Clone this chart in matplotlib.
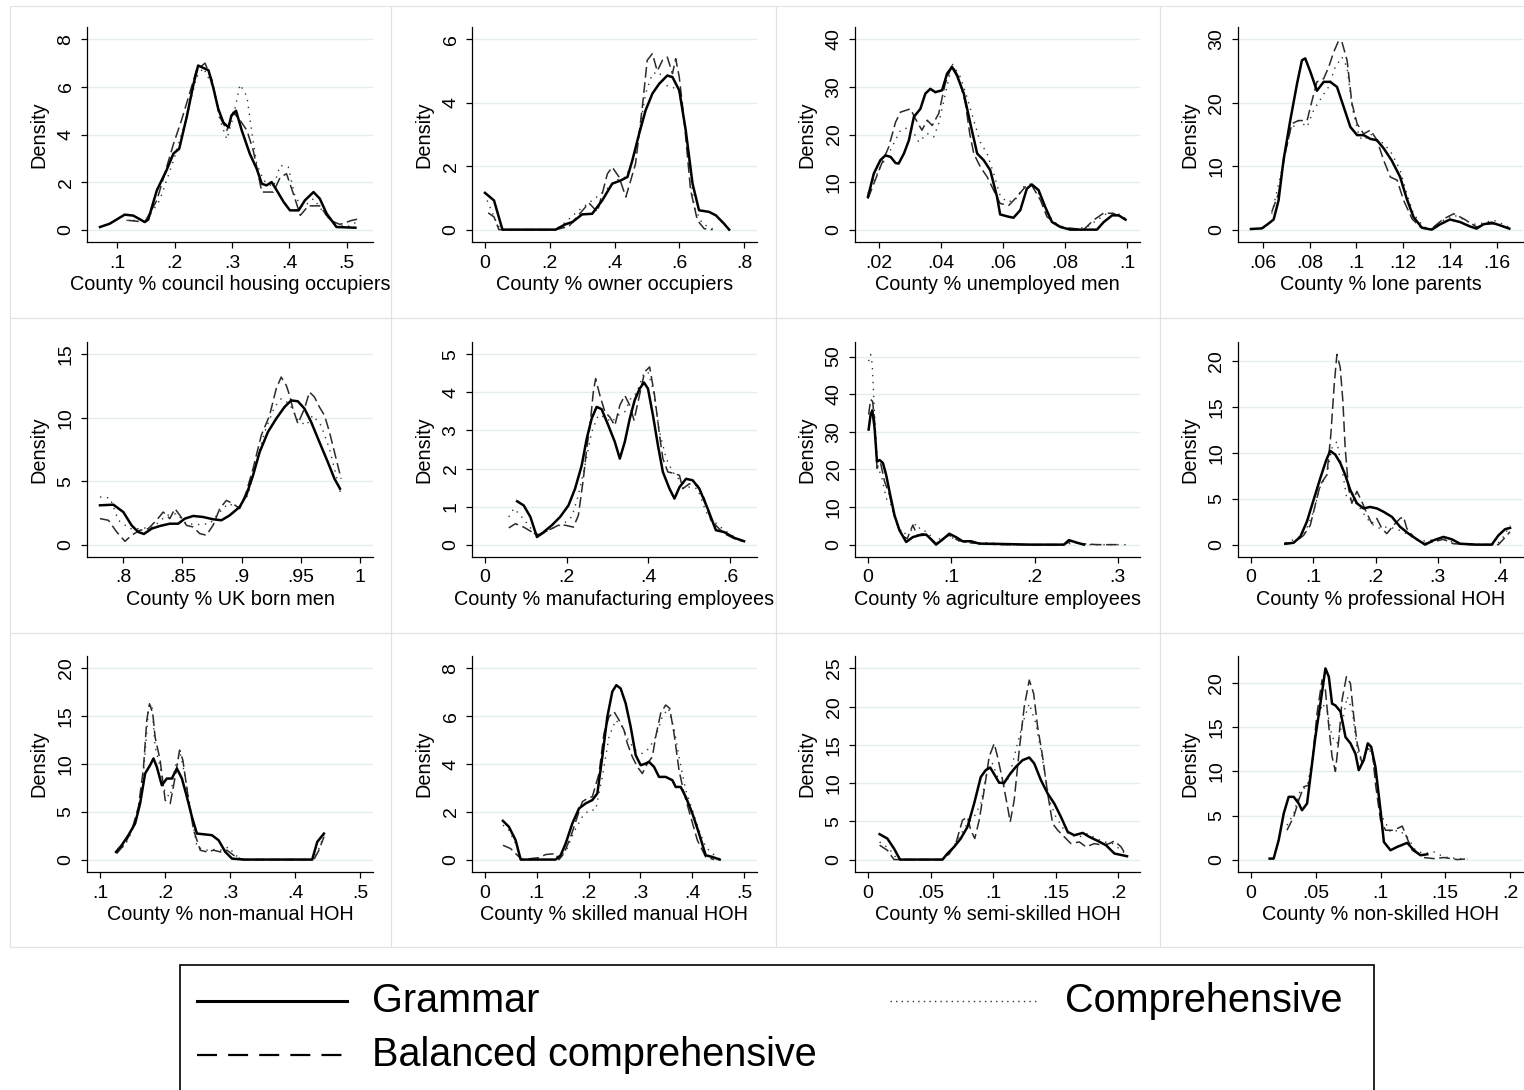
import matplotlib.pyplot as plt
from matplotlib.patches import Rectangle
from matplotlib.lines import Line2D

W, H = 1524, 1090
plt.rcParams['font.family'] = ['Liberation Sans', 'DejaVu Sans']

# (x, density) points
council_grammar = [(0.070, 0.11), (0.087, 0.25), (0.113, 0.63), (0.128, 0.59), (0.148, 0.32), (0.154, 0.42),
                   (0.169, 1.65), (0.186, 2.5), (0.198, 3.2), (0.208, 3.4), (0.221, 4.73), (0.233, 6.13),
                   (0.241, 6.9), (0.259, 6.7), (0.267, 6.0), (0.276, 5.08), (0.285, 4.5), (0.294, 4.3),
                   (0.299, 4.8), (0.307, 5.0), (0.317, 4.17), (0.331, 3.19), (0.343, 2.56), (0.352, 1.93),
                   (0.360, 1.86), (0.369, 2.0), (0.378, 1.65), (0.390, 1.16), (0.401, 0.81), (0.416, 0.81),
                   (0.427, 1.23), (0.442, 1.58), (0.453, 1.3), (0.465, 0.67), (0.482, 0.11), (0.515, 0.08)]
council_balanced = [(0.119, 0.39), (0.148, 0.32), (0.169, 1.23), (0.198, 3.6), (0.212, 4.6), (0.227, 5.8),
                    (0.238, 6.7), (0.253, 7.0), (0.265, 6.3), (0.279, 4.73), (0.291, 4.17), (0.302, 4.94),
                    (0.314, 4.6), (0.326, 4.17), (0.337, 3.33), (0.352, 1.58), (0.372, 1.58), (0.384, 2.2),
                    (0.395, 2.35), (0.407, 1.5), (0.419, 0.6), (0.433, 1.0), (0.453, 1.0), (0.471, 0.39),
                    (0.488, 0.22), (0.509, 0.39), (0.523, 0.46)]
council_comp = [(0.116, 0.39), (0.151, 0.39), (0.174, 1.23), (0.198, 2.9), (0.221, 4.73), (0.238, 6.4),
                (0.250, 6.8), (0.267, 6.0), (0.279, 4.6), (0.291, 3.8), (0.302, 4.73), (0.314, 6.1),
                (0.326, 5.6), (0.334, 4.17), (0.343, 2.77), (0.355, 2.07), (0.372, 1.79), (0.384, 2.7),
                (0.398, 2.63), (0.410, 1.37), (0.424, 0.95), (0.442, 1.3), (0.459, 0.74), (0.477, 0.25),
                (0.500, 0.11), (0.523, 0.39)]

owner_grammar = [(0.0, 1.16), (0.028, 0.92), (0.054, 0.0), (0.218, 0.0), (0.249, 0.17), (0.27, 0.24),
                 (0.30, 0.48), (0.331, 0.5), (0.362, 0.92), (0.393, 1.45), (0.419, 1.55), (0.44, 1.66),
                 (0.455, 2.18), (0.476, 3.02), (0.496, 3.76), (0.517, 4.29), (0.538, 4.6), (0.563, 4.86),
                 (0.579, 4.81), (0.60, 4.39), (0.62, 3.13), (0.641, 1.45), (0.661, 0.61), (0.692, 0.56),
                 (0.713, 0.45), (0.738, 0.19), (0.754, 0.0)]
owner_balanced = [(0.01, 0.53), (0.028, 0.4), (0.043, 0.0), (0.218, 0.0), (0.259, 0.1), (0.321, 0.84),
                  (0.347, 0.56), (0.362, 1.13), (0.378, 1.76), (0.393, 1.97), (0.414, 1.66), (0.435, 1.03),
                  (0.45, 1.55), (0.465, 2.08), (0.486, 3.87), (0.501, 5.34), (0.517, 5.55), (0.532, 5.0),
                  (0.548, 5.34), (0.563, 5.44), (0.579, 4.92), (0.589, 5.39), (0.60, 4.81), (0.615, 3.45),
                  (0.635, 1.24), (0.656, 0.29), (0.677, 0.03), (0.703, 0.0)]
owner_comp = [(0.007, 0.92), (0.033, 0.29), (0.048, 0.0), (0.218, 0.0), (0.249, 0.24), (0.29, 0.61),
              (0.331, 0.92), (0.372, 1.24), (0.403, 1.55), (0.435, 1.66), (0.465, 2.39), (0.496, 4.29),
              (0.517, 4.92), (0.538, 4.97), (0.558, 4.55), (0.579, 4.5), (0.60, 4.34), (0.62, 3.13),
              (0.646, 0.71), (0.671, 0.19), (0.703, 0.03)]

unemp_grammar = [(0.0165, 6.9), (0.0184, 11.8), (0.0205, 14.6), (0.0221, 15.6), (0.0238, 15.3), (0.0254, 14.0),
                 (0.0264, 13.9), (0.0281, 16.0), (0.0297, 18.8), (0.0313, 23.7), (0.0334, 25.4), (0.035, 28.6),
                 (0.0366, 29.6), (0.0382, 28.9), (0.0404, 29.3), (0.042, 32.8), (0.0436, 34.2), (0.0452, 32.4),
                 (0.0474, 28.6), (0.0495, 22.3), (0.0517, 16.0), (0.0538, 14.6), (0.0559, 12.5), (0.0581, 6.9),
                 (0.0591, 3.2), (0.0613, 2.8), (0.0634, 2.5), (0.0656, 4.1), (0.0677, 8.6), (0.0693, 9.5),
                 (0.0715, 8.3), (0.0736, 4.8), (0.0758, 1.6), (0.0785, 0.56), (0.0817, 0.0), (0.0903, 0.0),
                 (0.0925, 1.6), (0.0952, 3.0), (0.0973, 3.0), (0.0995, 2.1)]
unemp_balanced = [(0.0165, 6.5), (0.0205, 13.2), (0.0232, 17.4), (0.0254, 22.6), (0.027, 24.7), (0.0302, 25.4),
                  (0.0318, 23.3), (0.0339, 20.9), (0.0356, 23.0), (0.0372, 21.9), (0.0393, 24.4), (0.0414, 30.7),
                  (0.0436, 34.6), (0.0457, 32.1), (0.0479, 26.6), (0.0493, 20.2), (0.0506, 16.0), (0.0527, 13.2),
                  (0.0549, 11.1), (0.057, 8.3), (0.0591, 5.5), (0.0619, 5.1), (0.0645, 6.9), (0.0672, 9.0),
                  (0.0693, 9.3), (0.0721, 6.2), (0.0742, 2.7), (0.0785, 0.56), (0.086, 0.0), (0.0892, 2.0),
                  (0.0925, 3.5), (0.0957, 3.4), (0.0989, 2.3)]
unemp_comp = [(0.0165, 7.6), (0.0205, 13.2), (0.0227, 15.3), (0.0248, 18.1), (0.027, 20.9), (0.0302, 21.6),
              (0.0329, 18.4), (0.0356, 20.2), (0.0377, 19.5), (0.0393, 22.3), (0.041, 27.2), (0.0436, 34.9),
              (0.0463, 32.1), (0.0484, 27.9), (0.0506, 23.0), (0.0527, 18.4), (0.0549, 16.0), (0.057, 11.8),
              (0.0591, 7.2), (0.0613, 5.8), (0.0639, 6.2), (0.0667, 9.0), (0.0693, 9.7), (0.0715, 7.6),
              (0.0742, 3.4), (0.0774, 1.1), (0.0817, 0.0), (0.0871, 0.56), (0.0903, 2.0), (0.0935, 3.4),
              (0.0968, 3.5), (0.100, 2.1)]

lone_grammar = [(0.0549, 0.1), (0.0596, 0.2), (0.0624, 0.95), (0.0646, 1.6), (0.0667, 4.6), (0.0688, 10.9),
                (0.0717, 17.2), (0.0746, 23.0), (0.0767, 26.7), (0.0781, 27.0), (0.0803, 24.9), (0.0831, 21.9),
                (0.086, 23.3), (0.0888, 23.3), (0.0917, 22.5), (0.0946, 19.3), (0.0974, 16.2), (0.1003, 14.9),
                (0.1031, 14.9), (0.106, 14.3), (0.1088, 14.1), (0.1117, 12.8), (0.1151, 10.9), (0.1187, 8.3),
                (0.1215, 4.9), (0.1244, 2.0), (0.128, 0.3), (0.1322, 0.0), (0.1358, 0.84), (0.140, 1.6),
                (0.1443, 1.2), (0.1486, 0.5), (0.1514, 0.16), (0.1543, 0.84), (0.1579, 1.1), (0.1614, 0.68),
                (0.1654, 0.16)]
lone_balanced = [(0.0638, 2.8), (0.0667, 5.7), (0.0695, 12.0), (0.0724, 16.7), (0.0752, 17.2), (0.0789, 17.2),
                 (0.081, 20.3), (0.0831, 23.3), (0.086, 23.8), (0.0881, 25.6), (0.0903, 28.0), (0.0924, 29.8),
                 (0.0938, 29.6), (0.096, 26.7), (0.0981, 19.9), (0.1003, 16.7), (0.1031, 15.1), (0.106, 15.7),
                 (0.1088, 14.1), (0.1117, 10.9), (0.1145, 8.3), (0.1174, 7.8), (0.1202, 4.6), (0.1238, 1.7),
                 (0.1273, 0.42), (0.1316, 0.0), (0.1373, 1.7), (0.1416, 2.5), (0.1459, 1.7), (0.1514, 0.42),
                 (0.1557, 0.84), (0.1599, 0.95), (0.1642, 0.3)]
lone_comp = [(0.0638, 2.5), (0.0681, 9.4), (0.0717, 15.6), (0.0752, 17.2), (0.0789, 16.2), (0.0817, 18.8),
             (0.0852, 20.9), (0.0881, 22.5), (0.0909, 25.6), (0.0938, 27.2), (0.096, 25.6), (0.0981, 19.3),
             (0.1013, 14.6), (0.1031, 14.1), (0.106, 15.1), (0.1088, 14.1), (0.1117, 13.6), (0.1151, 12.0),
             (0.1187, 9.4), (0.1215, 5.7), (0.1244, 2.5), (0.1287, 0.42), (0.1322, 0.16), (0.1373, 1.5),
             (0.1416, 2.3), (0.1459, 1.6), (0.1501, 0.84), (0.1543, 1.05), (0.1585, 1.5), (0.1628, 0.84),
             (0.1657, 0.3)]

ukborn_grammar = [(0.7803, 3.1), (0.7916, 3.15), (0.800, 2.57), (0.807, 1.52), (0.8126, 1.0), (0.8174, 0.84),
                  (0.8239, 1.26), (0.8309, 1.47), (0.8393, 1.65), (0.8464, 1.65), (0.852, 2.05), (0.859, 2.26),
                  (0.8674, 2.18), (0.8758, 2.0), (0.8829, 1.92), (0.8899, 2.31), (0.8983, 2.97), (0.9039, 3.89),
                  (0.9096, 5.46), (0.9152, 7.3), (0.9222, 8.88), (0.9292, 9.93), (0.9362, 10.85), (0.9419, 11.37),
                  (0.9475, 11.3), (0.9531, 10.72), (0.9587, 9.67), (0.9657, 8.09), (0.9728, 6.51), (0.9784, 5.2),
                  (0.9831, 4.41)]
ukborn_balanced = [(0.7803, 2.05), (0.7874, 1.92), (0.7944, 1.0), (0.8014, 0.26), (0.807, 0.74), (0.814, 1.13),
                   (0.8211, 1.26), (0.8281, 1.92), (0.8337, 2.57), (0.8393, 2.05), (0.8436, 2.84), (0.8478, 2.31),
                   (0.8534, 1.52), (0.859, 1.39), (0.8646, 0.87), (0.8702, 0.74), (0.8758, 1.52), (0.8815, 2.84),
                   (0.8871, 3.49), (0.8927, 3.23), (0.8983, 2.84), (0.9039, 4.15), (0.9096, 5.99), (0.9166, 8.62),
                   (0.9236, 10.19), (0.9292, 12.29), (0.9334, 13.21), (0.9377, 12.56), (0.9405, 11.77),
                   (0.9433, 10.72), (0.9475, 9.54), (0.9531, 10.72), (0.9573, 12.03), (0.9615, 11.64),
                   (0.9657, 10.85), (0.970, 10.19), (0.9742, 8.88), (0.9798, 6.78), (0.984, 5.2)]
ukborn_comp = [(0.7803, 3.76), (0.7888, 3.68), (0.7958, 1.92), (0.8056, 1.26), (0.814, 1.26), (0.8253, 1.39),
               (0.8365, 2.31), (0.8449, 2.44), (0.8534, 1.65), (0.8646, 1.58), (0.873, 1.65), (0.8815, 2.57),
               (0.8885, 3.23), (0.8969, 2.97), (0.9053, 3.89), (0.9124, 6.51), (0.9194, 8.88), (0.9278, 10.85),
               (0.9334, 11.5), (0.9405, 11.1), (0.9475, 9.8), (0.9545, 9.4), (0.9601, 10.19), (0.9671, 9.4),
               (0.9742, 7.56), (0.9812, 4.94), (0.984, 3.89)]

manuf_grammar = [(0.0787, 1.14), (0.0949, 1.03), (0.1111, 0.73), (0.1273, 0.2), (0.1436, 0.33), (0.1638, 0.51),
                 (0.1841, 0.73), (0.2044, 1.03), (0.2206, 1.47), (0.2368, 2.08), (0.249, 2.78), (0.2612, 3.31),
                 (0.2733, 3.62), (0.2855, 3.56), (0.3017, 3.14), (0.3179, 2.7), (0.3301, 2.26), (0.3423, 2.7),
                 (0.3544, 3.31), (0.3666, 3.8), (0.3788, 4.1), (0.3893, 4.26), (0.399, 4.1), (0.4112, 3.4),
                 (0.4234, 2.61), (0.4355, 1.91), (0.4517, 1.47), (0.4639, 1.21), (0.4761, 1.51), (0.4923, 1.73),
                 (0.5085, 1.69), (0.5247, 1.47), (0.545, 0.95), (0.5652, 0.38), (0.5855, 0.33), (0.6099, 0.18),
                 (0.6342, 0.09)]
manuf_balanced = [(0.0584, 0.44), (0.0746, 0.55), (0.0949, 0.46), (0.1152, 0.33), (0.1354, 0.25), (0.1557, 0.38),
                  (0.180, 0.51), (0.1963, 0.51), (0.2166, 0.46), (0.2287, 0.77), (0.2409, 1.73), (0.249, 2.52),
                  (0.2571, 3.13), (0.2652, 4.01), (0.2709, 4.36), (0.2814, 3.92), (0.2936, 3.49), (0.3057, 3.35),
                  (0.3179, 3.13), (0.3301, 3.66), (0.3423, 3.92), (0.3544, 3.66), (0.3649, 3.27), (0.3747, 3.75),
                  (0.3909, 4.54), (0.4031, 4.67), (0.4152, 3.92), (0.4274, 2.87), (0.4355, 2.26), (0.4477, 1.91),
                  (0.4639, 1.87), (0.4761, 1.82), (0.4842, 1.47), (0.5004, 1.6), (0.5207, 1.56), (0.5369, 1.21),
                  (0.5531, 0.64), (0.5693, 0.46), (0.5855, 0.29), (0.6099, 0.16), (0.6302, 0.09)]
manuf_comp = [(0.0584, 0.73), (0.0706, 0.95), (0.0868, 0.77), (0.1071, 0.51), (0.1233, 0.25), (0.1476, 0.33),
              (0.1719, 0.46), (0.1922, 0.55), (0.2125, 0.73), (0.2287, 1.3), (0.2449, 2.08), (0.2612, 2.96),
              (0.2774, 3.4), (0.2936, 3.35), (0.3098, 3.22), (0.326, 3.4), (0.3423, 3.49), (0.3585, 3.88),
              (0.3706, 3.97), (0.3868, 4.45), (0.399, 4.54), (0.4112, 4.1), (0.4274, 2.96), (0.4436, 2.26),
              (0.4598, 1.91), (0.4801, 1.65), (0.5004, 1.51), (0.5207, 1.47), (0.5409, 0.86), (0.5612, 0.6),
              (0.5814, 0.42), (0.6018, 0.26), (0.6302, 0.09)]

agri_grammar = [(0.0008, 30.6), (0.0032, 34.6), (0.0052, 35.7), (0.008, 31.0), (0.0108, 22.1), (0.014, 22.5),
                (0.018, 21.7), (0.0219, 18.5), (0.0259, 14.1), (0.0319, 7.8), (0.0379, 3.8), (0.0459, 0.7),
                (0.0539, 2.0), (0.0618, 2.5), (0.0698, 2.7), (0.0758, 1.4), (0.0818, 0.0), (0.0898, 1.4),
                (0.0977, 2.9), (0.1057, 2.0), (0.1137, 0.9), (0.1237, 0.9), (0.1336, 0.27), (0.1556, 0.2),
                (0.1955, 0.0), (0.2353, 0.0), (0.2413, 1.2), (0.2513, 0.5), (0.2593, 0.0)]
agri_balanced = [(0.0008, 34.6), (0.0032, 38.6), (0.0056, 38.1), (0.008, 32.8), (0.0108, 20.3), (0.0152, 21.7),
                 (0.0199, 16.8), (0.0259, 13.2), (0.0319, 7.4), (0.0399, 2.5), (0.0471, 1.6), (0.0539, 5.2),
                 (0.059, 2.5), (0.0658, 2.9), (0.0738, 2.0), (0.0818, 0.27), (0.0898, 1.6), (0.0977, 2.5),
                 (0.1077, 1.2), (0.1197, 0.5), (0.1396, 0.27), (0.1556, 0.0), (0.2353, 0.0), (0.2433, 0.9),
                 (0.2553, 0.27), (0.2752, 0.0), (0.2992, 0.0)]
agri_comp = [(0.0008, 48.8), (0.0032, 50.6), (0.0052, 47.9), (0.0068, 39.9), (0.0088, 31.0), (0.012, 20.3),
             (0.016, 18.5), (0.0219, 12.3), (0.0279, 10.5), (0.0339, 6.1), (0.0419, 2.7), (0.0519, 3.8),
             (0.0578, 5.6), (0.0638, 3.8), (0.0718, 3.4), (0.0798, 0.7), (0.0898, 2.0), (0.0997, 2.0),
             (0.1117, 0.7), (0.1276, 0.5), (0.1476, 0.5), (0.1635, 0.0), (0.2353, 0.0), (0.2473, 0.5),
             (0.2633, 0.0), (0.3111, 0.0)]

prof_grammar = [(0.0551, 0.1), (0.0684, 0.2), (0.0791, 0.84), (0.0898, 2.5), (0.1005, 4.85), (0.1112, 7.2),
                (0.1209, 9.2), (0.1273, 10.2), (0.1353, 9.8), (0.1433, 8.9), (0.1513, 7.6), (0.1594, 5.95),
                (0.1701, 4.5), (0.1807, 3.94), (0.1914, 4.1), (0.2021, 3.94), (0.2128, 3.58), (0.2262, 3.03),
                (0.2396, 1.93), (0.253, 1.2), (0.2663, 0.58), (0.2797, 0.0), (0.293, 0.47), (0.3091, 0.84),
                (0.3225, 0.58), (0.3358, 0.1), (0.3626, 0.0), (0.3866, 0.0), (0.3973, 1.0), (0.408, 1.68),
                (0.416, 1.82)]
prof_balanced = [(0.0551, 0.07), (0.0684, 0.2), (0.0845, 1.0), (0.0952, 2.1), (0.1032, 4.3), (0.1112, 6.5),
                 (0.1219, 7.6), (0.1283, 12.0), (0.1337, 17.4), (0.138, 20.7), (0.1433, 19.3), (0.1476, 15.6),
                 (0.1513, 10.5), (0.1567, 6.1), (0.162, 4.5), (0.1701, 5.8), (0.1781, 4.67), (0.1861, 3.4),
                 (0.1941, 2.3), (0.2021, 2.85), (0.2102, 1.75), (0.2182, 1.2), (0.2289, 2.1), (0.2396, 2.85),
                 (0.2449, 3.03), (0.2503, 1.75), (0.261, 0.84), (0.277, 0.1), (0.293, 0.3), (0.3091, 0.58),
                 (0.3251, 0.1), (0.3519, 0.0), (0.3973, 0.0), (0.4053, 0.58), (0.416, 1.4)]
prof_comp = [(0.0551, 0.2), (0.0738, 0.66), (0.0872, 1.4), (0.1005, 3.58), (0.1112, 6.3), (0.1219, 7.6),
             (0.1299, 10.5), (0.138, 11.2), (0.146, 8.3), (0.154, 5.0), (0.1647, 4.85), (0.1754, 3.94),
             (0.1861, 2.85), (0.1968, 2.1), (0.2075, 1.75), (0.2182, 1.93), (0.2315, 1.75), (0.2449, 1.39),
             (0.2583, 0.84), (0.2717, 0.37), (0.2877, 0.47), (0.3037, 0.66), (0.3198, 0.37), (0.3358, 0.1),
             (0.3947, 0.0), (0.4053, 0.84), (0.416, 2.1)]

nonman_grammar = [(0.1247, 0.8), (0.1334, 1.5), (0.1437, 2.55), (0.154, 3.77), (0.1617, 5.86), (0.1694, 9.0),
                  (0.1771, 9.88), (0.1823, 10.58), (0.1874, 9.7), (0.1951, 7.78), (0.2028, 8.48), (0.2105, 8.48),
                  (0.2183, 9.53), (0.226, 8.48), (0.2337, 6.56), (0.2414, 4.47), (0.2491, 2.72), (0.2594, 2.65),
                  (0.2722, 2.55), (0.2825, 2.02), (0.2928, 0.8), (0.3031, 0.1), (0.3211, 0.0), (0.4265, 0.0),
                  (0.4342, 1.85), (0.4445, 2.72)]
nonman_balanced = [(0.1257, 0.63), (0.1386, 1.68), (0.1488, 3.07), (0.1591, 5.51), (0.1668, 9.53), (0.172, 14.6),
                   (0.1761, 16.3), (0.1812, 15.3), (0.1848, 12.8), (0.1925, 10.4), (0.2003, 6.2), (0.208, 5.86),
                   (0.2157, 8.66), (0.2224, 11.45), (0.2275, 10.4), (0.2363, 6.2), (0.244, 3.07), (0.2542, 0.98),
                   (0.2645, 0.8), (0.2748, 0.98), (0.2851, 0.8), (0.2954, 0.98), (0.3056, 0.45), (0.3185, 0.0),
                   (0.4291, 0.0), (0.4368, 0.98), (0.4445, 2.37)]
nonman_comp = [(0.1257, 0.8), (0.1386, 1.5), (0.1488, 2.9), (0.1591, 5.17), (0.1668, 9.0), (0.1745, 15.6),
               (0.1797, 16.3), (0.1848, 11.8), (0.1925, 9.7), (0.2003, 6.9), (0.208, 6.56), (0.2157, 9.7),
               (0.2234, 11.1), (0.2311, 8.66), (0.2388, 5.51), (0.2491, 1.33), (0.2619, 0.98), (0.2748, 1.05),
               (0.2877, 0.98), (0.298, 1.33), (0.3082, 0.45), (0.3211, 0.0), (0.4291, 0.0), (0.4368, 1.15),
               (0.4445, 2.55)]

skilled_grammar = [(0.0347, 1.62), (0.0463, 1.37), (0.0592, 0.81), (0.0689, 0.0), (0.1364, 0.0), (0.1461, 0.18),
                   (0.1557, 0.67), (0.1686, 1.51), (0.1815, 2.14), (0.1943, 2.35), (0.2072, 2.49), (0.2169, 2.77),
                   (0.2265, 4.3), (0.2362, 5.98), (0.2458, 7.03), (0.2535, 7.3), (0.2619, 7.16), (0.2715, 6.54),
                   (0.2812, 5.56), (0.2909, 4.37), (0.3005, 3.95), (0.3102, 4.02), (0.3166, 4.09), (0.3263, 3.88),
                   (0.3359, 3.46), (0.3488, 3.46), (0.3617, 3.32), (0.3681, 3.04), (0.3777, 3.04), (0.3874, 2.63),
                   (0.4003, 1.93), (0.4131, 1.09), (0.426, 0.18), (0.4389, 0.11), (0.453, 0.0)]
skilled_balanced = [(0.0347, 0.6), (0.0495, 0.46), (0.0624, 0.18), (0.0721, 0.0), (0.1042, 0.08), (0.1171, 0.21),
                    (0.1364, 0.25), (0.1429, 0.0), (0.1525, 0.25), (0.1654, 0.95), (0.1782, 1.79), (0.1879, 2.42),
                    (0.1976, 2.56), (0.2072, 2.63), (0.2201, 3.6), (0.2297, 5.28), (0.2394, 5.98), (0.2491, 6.19),
                    (0.2587, 5.84), (0.2683, 5.42), (0.2748, 4.86), (0.2844, 4.3), (0.2941, 3.88), (0.3037, 3.6),
                    (0.3134, 4.02), (0.323, 4.3), (0.3295, 5.14), (0.3391, 6.12), (0.3488, 6.47), (0.3565, 6.33),
                    (0.3649, 5.28), (0.3745, 3.74), (0.3842, 2.77), (0.397, 1.79), (0.4099, 0.81), (0.426, 0.11),
                    (0.4421, 0.0)]
skilled_comp = [(0.0347, 1.44), (0.0463, 1.23), (0.0592, 0.67), (0.0689, 0.0), (0.1364, 0.0), (0.1557, 0.32),
                (0.1718, 1.16), (0.1879, 1.79), (0.2008, 2.07), (0.2136, 2.07), (0.2265, 3.46), (0.2394, 5.14),
                (0.2523, 5.84), (0.2651, 5.56), (0.278, 4.93), (0.2909, 4.58), (0.3037, 4.44), (0.3166, 4.65),
                (0.3295, 5.14), (0.3423, 5.98), (0.3539, 6.33), (0.3649, 5.49), (0.3745, 4.3), (0.3874, 2.91),
                (0.4003, 2.07), (0.4131, 1.23), (0.426, 0.53), (0.4389, 0.25), (0.455, 0.0)]

semi_grammar = [(0.0093, 3.32), (0.0155, 2.75), (0.0208, 1.44), (0.0256, 0.0), (0.0595, 0.0), (0.0635, 0.79),
                (0.0688, 1.66), (0.0741, 2.75), (0.0795, 4.28), (0.0848, 7.33), (0.0901, 10.8), (0.0941, 11.7),
                (0.0976, 12.04), (0.1013, 11.04), (0.1048, 10.04), (0.1088, 10.04), (0.1128, 11.04),
                (0.1181, 12.13), (0.1235, 13.0), (0.1288, 13.35), (0.1328, 12.57), (0.1381, 10.4),
                (0.1435, 8.64), (0.1488, 7.33), (0.1541, 5.58), (0.1595, 3.62), (0.1648, 3.18), (0.1715, 3.49),
                (0.1768, 2.97), (0.1835, 2.44), (0.1901, 1.88), (0.1968, 0.79), (0.2069, 0.44)]
semi_balanced = [(0.0093, 1.88), (0.0155, 1.22), (0.0208, 0.0), (0.0595, 0.0), (0.0648, 0.7), (0.0701, 2.09),
                 (0.0755, 5.15), (0.0795, 5.58), (0.0821, 3.84), (0.0853, 2.75), (0.0888, 5.15), (0.0928, 9.07),
                 (0.0968, 13.44), (0.1008, 15.18), (0.1035, 13.44), (0.1075, 10.4), (0.1115, 6.89),
                 (0.1136, 4.93), (0.1168, 7.77), (0.1208, 14.3), (0.1248, 19.98), (0.1288, 23.47),
                 (0.1323, 21.73), (0.1355, 17.37), (0.1395, 13.44), (0.1435, 8.64), (0.1475, 4.71),
                 (0.1515, 3.84), (0.1568, 2.97), (0.1621, 2.09), (0.1688, 2.31), (0.1741, 1.66), (0.1808, 2.09),
                 (0.1875, 1.88), (0.1928, 2.09), (0.1968, 2.44), (0.2021, 1.66), (0.2061, 0.57)]
semi_comp = [(0.0093, 2.31), (0.0168, 1.44), (0.0235, 0.0), (0.0595, 0.0), (0.0661, 1.0), (0.0728, 2.97),
             (0.0795, 4.71), (0.0848, 5.58), (0.0901, 7.33), (0.0955, 11.7), (0.0995, 12.57), (0.1035, 10.8),
             (0.1075, 9.55), (0.1128, 10.8), (0.1181, 14.3), (0.1235, 17.8), (0.1288, 20.4), (0.1341, 17.8),
             (0.1395, 13.0), (0.1448, 7.77), (0.1501, 5.58), (0.1568, 3.84), (0.1621, 3.18), (0.1688, 2.97),
             (0.1755, 3.4), (0.1821, 2.75), (0.1888, 2.31), (0.1955, 2.09), (0.2021, 1.22), (0.2061, 0.7)]

nonsk_grammar = [(0.0144, 0.11), (0.0175, 0.11), (0.0214, 2.2), (0.0253, 5.23), (0.0291, 7.12), (0.033, 7.12),
                 (0.0369, 6.36), (0.0394, 5.6), (0.0433, 6.36), (0.0459, 9.4), (0.0497, 13.9), (0.0536, 17.7),
                 (0.0575, 21.7), (0.0601, 20.76), (0.0626, 17.7), (0.0652, 17.5), (0.0691, 16.8), (0.073, 13.9),
                 (0.0768, 13.2), (0.0807, 12.0), (0.0832, 10.15), (0.0871, 11.3), (0.0902, 13.2), (0.0928, 12.8),
                 (0.0961, 10.5), (0.100, 5.6), (0.1026, 2.0), (0.1077, 1.06), (0.1129, 1.44), (0.1206, 1.9),
                 (0.1258, 1.06), (0.1309, 0.49), (0.1361, 0.6)]
nonsk_balanced = [(0.0278, 3.33), (0.033, 4.85), (0.0369, 6.74), (0.0407, 8.26), (0.0446, 8.45), (0.0472, 10.9),
                  (0.051, 16.6), (0.0549, 20.4), (0.0575, 19.2), (0.0601, 15.1), (0.0626, 11.7), (0.0652, 10.0),
                  (0.0678, 13.6), (0.0704, 18.2), (0.0737, 20.76), (0.0768, 20.0), (0.0794, 16.2), (0.082, 13.2),
                  (0.0858, 10.9), (0.0897, 12.6), (0.0936, 12.4), (0.0961, 8.6), (0.100, 4.5), (0.1039, 3.33),
                  (0.1103, 3.33), (0.1168, 3.8), (0.1206, 2.4), (0.1245, 1.06), (0.1296, 0.6), (0.1335, 0.23),
                  (0.1412, 0.11), (0.149, 0.23), (0.1593, 0.0), (0.167, 0.08)]
nonsk_comp = [(0.0278, 3.9), (0.033, 5.2), (0.0381, 7.9), (0.0433, 8.26), (0.0472, 11.3), (0.051, 15.1),
              (0.0549, 17.7), (0.0588, 17.0), (0.0626, 13.9), (0.0665, 13.2), (0.0704, 15.4), (0.0742, 18.5),
              (0.0781, 17.0), (0.082, 12.4), (0.0858, 10.9), (0.0897, 12.8), (0.0936, 12.0), (0.0974, 8.6),
              (0.1013, 4.85), (0.1077, 3.14), (0.1142, 3.33), (0.1206, 2.6), (0.127, 1.06), (0.1335, 0.68),
              (0.1412, 0.87), (0.149, 0.3), (0.1593, 0.11), (0.167, 0.08)]

titles = ["County % council housing occupiers", "County % owner occupiers", "County % unemployed men",
          "County % lone parents", "County % UK born men", "County % manufacturing employees",
          "County % agriculture employees", "County % professional HOH", "County % non-manual HOH",
          "County % skilled manual HOH", "County % semi-skilled HOH", "County % non-skilled HOH"]
grammar = [council_grammar, owner_grammar, unemp_grammar, lone_grammar, ukborn_grammar, manuf_grammar,
           agri_grammar, prof_grammar, nonman_grammar, skilled_grammar, semi_grammar, nonsk_grammar]
balanced = [council_balanced, owner_balanced, unemp_balanced, lone_balanced, ukborn_balanced, manuf_balanced,
            agri_balanced, prof_balanced, nonman_balanced, skilled_balanced, semi_balanced, nonsk_balanced]
comprehensive = [council_comp, owner_comp, unemp_comp, lone_comp, ukborn_comp, manuf_comp,
                 agri_comp, prof_comp, nonman_comp, skilled_comp, semi_comp, nonsk_comp]
x_ticks = [[.1, .2, .3, .4, .5], [0, .2, .4, .6, .8], [.02, .04, .06, .08, .1], [.06, .08, .1, .12, .14, .16],
           [.8, .85, .9, .95, 1], [0, .2, .4, .6], [0, .1, .2, .3], [0, .1, .2, .3, .4],
           [.1, .2, .3, .4, .5], [0, .1, .2, .3, .4, .5], [0, .05, .1, .15, .2], [0, .05, .1, .15, .2]]
y_ticks = [[0, 2, 4, 6, 8], [0, 2, 4, 6], [0, 10, 20, 30, 40], [0, 10, 20, 30],
           [0, 5, 10, 15], [0, 1, 2, 3, 4, 5], [0, 10, 20, 30, 40, 50], [0, 5, 10, 15, 20],
           [0, 5, 10, 15, 20], [0, 2, 4, 6, 8], [0, 5, 10, 15, 20, 25], [0, 5, 10, 15, 20]]


def stata_num(v):
    s = f"{v:g}"
    if s.startswith("0."):
        s = s[1:]
    return s


fig = plt.figure(figsize=(W / 100, H / 100), dpi=100)

col_left = [87, 472, 855, 1238]
col_right = [373, 757, 1140, 1523]
row_top = [27, 342, 656]
row_bottom = [242, 557, 872]
cell_x = [10, 391, 776, 1160, 1545]
cell_y = [6, 318, 633, 947]

# light frames around each sub-graph
for r in range(3):
    for c in range(4):
        fig.add_artist(Rectangle((cell_x[c] / W, 1 - cell_y[r + 1] / H),
                                 (cell_x[c + 1] - cell_x[c]) / W, (cell_y[r + 1] - cell_y[r]) / H,
                                 transform=fig.transFigure, fill=False, edgecolor='#e2e2e2', lw=0.8))

for i in range(12):
    r, c = divmod(i, 4)
    ax = fig.add_axes([col_left[c] / W, 1 - row_bottom[r] / H,
                       (col_right[c] - col_left[c]) / W, (row_bottom[r] - row_top[r]) / H])
    g, b, cp = grammar[i], balanced[i], comprehensive[i]
    allx = [p[0] for s in (g, b, cp) for p in s]
    ally = [p[1] for s in (g, b, cp) for p in s]

    ax.plot([p[0] for p in cp], [p[1] for p in cp], color='#333333', lw=1.0, linestyle=(0, (1, 4)))
    ax.plot([p[0] for p in b], [p[1] for p in b], color='#2a2a2a', lw=1.1, dashes=(7, 3))
    ax.plot([p[0] for p in g], [p[1] for p in g], color='black', lw=1.8)

    xt, yt = x_ticks[i], y_ticks[i]
    xlo, xhi = min(xt[0], min(allx)), max(xt[-1], max(allx))
    xp = 0.05 * (xhi - xlo)
    ax.set_xlim(xlo - xp, xhi + xp)
    ylo, yhi = 0, max(yt[-1], max(ally))
    yp = 0.065 * (yhi - ylo)
    ax.set_ylim(ylo - yp, yhi + yp)

    ax.set_xticks(xt)
    ax.set_xticklabels([stata_num(v) for v in xt])
    ax.set_yticks(yt)
    ax.set_yticklabels([stata_num(v) for v in yt], rotation=90, va='center')
    for v in yt:
        ax.axhline(v, color='#e4edf0', lw=1.0, zorder=0)

    for side in ('top', 'right'):
        ax.spines[side].set_visible(False)
    for side in ('left', 'bottom'):
        ax.spines[side].set_linewidth(0.9)
    ax.tick_params(length=4, width=0.9, labelsize=14, pad=5)
    ax.text(-0.17, 0.5, "Density", transform=ax.transAxes, rotation=90,
            ha='center', va='center', fontsize=14.3)
    ax.text(0.5, -0.198, titles[i], transform=ax.transAxes, ha='center', va='center', fontsize=14.3)
    ax.patch.set_visible(False)

# legend box
fig.add_artist(Rectangle((180 / W, 1 - 1095 / H), (1374 - 180) / W, (1095 - 965) / H,
                         transform=fig.transFigure, fill=False, edgecolor='black', lw=1.2))
legend_items = [("Grammar", 197, 1001, dict(color='black', lw=2.2)),
                ("Comprehensive", 890, 1001, dict(color='#333333', lw=1.0, linestyle=(0, (1, 3)))),
                ("Balanced comprehensive", 197, 1055, dict(color='black', lw=1.6, dashes=(9, 5)))]
for label, x0, y0, style in legend_items:
    fig.add_artist(Line2D([x0 / W, (x0 + 150) / W], [1 - y0 / H, 1 - y0 / H],
                          transform=fig.transFigure, **style))
    fig.text((x0 + 175) / W, 1 - y0 / H, label, ha='left', va='center', fontsize=28.5)

fig.savefig("out.png", dpi=100)
